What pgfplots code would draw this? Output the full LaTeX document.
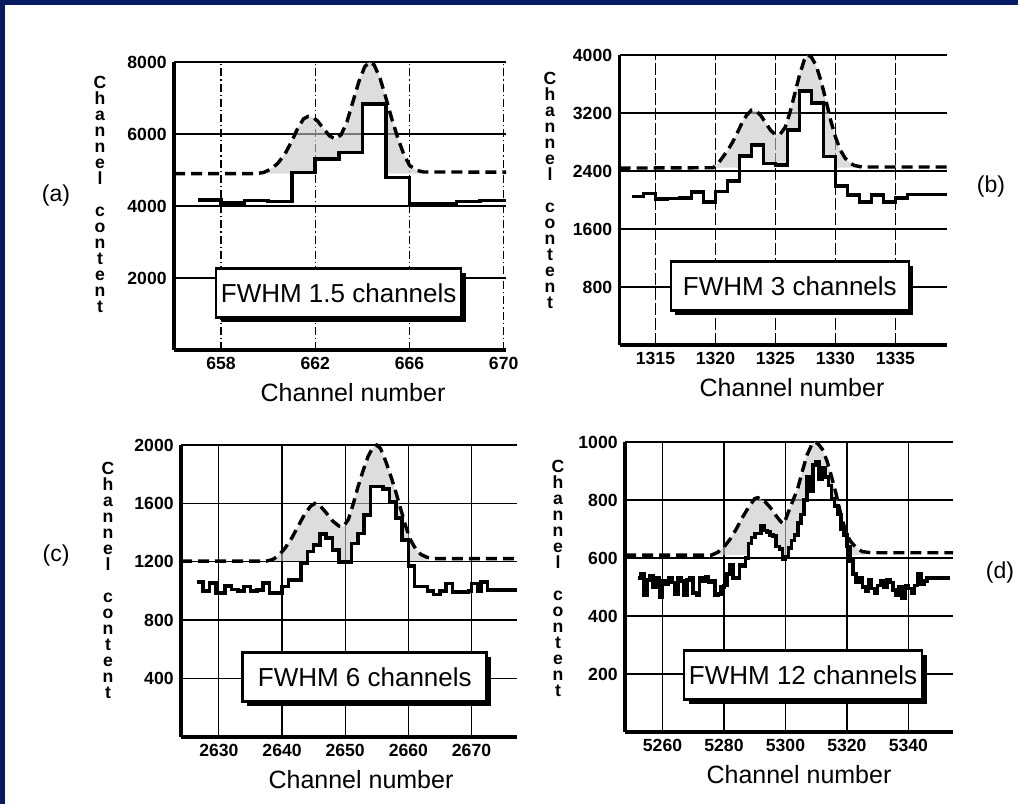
\documentclass[border=0pt]{standalone}
\usepackage{fontspec}
\setmainfont{Liberation Sans}
\usepackage{pgfplots}
\pgfplotsset{compat=1.18}
\usetikzlibrary{shadows}
\definecolor{navy}{RGB}{8,26,98}
\pgfplotsset{
  panel/.style={
    scale only axis, anchor=north west, clip=false,
    axis x line*=bottom, axis y line*=left,
    axis line style={line width=1.7bp, -},
    ymin=0,
    major tick length=0pt,
    ymajorgrids, xmajorgrids,
    y grid style={line width=0.7bp, black},
    x grid style={line width=0.6bp, black},
    tick label style={font=\fontsize{8.8bp}{10bp}\selectfont\bfseries},
    /pgf/number format/assume math mode=true,
    /pgf/number format/1000 sep={},
    yticklabel style={inner sep=0pt, xshift=-3.5bp},
    xticklabel style={inner sep=0pt, yshift=-3.5bp},
  },
  hist/.style={const plot, line width=1.8bp, black, no markers},
  model/.style={line width=1.7bp, black, dash pattern=on 5.5bp off 3bp, no markers},
  shade/.style={fill=black!22, fill opacity=0.6, draw=none, no markers},
}
\tikzset{
  fwhm/.style={draw=black, line width=1.3bp, fill=white, inner sep=0pt,
    minimum width=#1, minimum height=24.5bp,
    font=\fontsize{13bp}{15bp}\selectfont,
    drop shadow={shadow xshift=2.2bp, shadow yshift=-2.2bp, fill=black, opacity=1}},
  ylab/.style={align=center, inner sep=0pt, font=\fontsize{8.8bp}{8bp}\selectfont\bfseries},
  xlab/.style={inner sep=0pt, font=\fontsize{12.5bp}{14bp}\selectfont},
  plab/.style={inner sep=0pt, font=\fontsize{11.5bp}{13bp}\selectfont},
}
\begin{document}
\begin{tikzpicture}
\useasboundingbox (0,0) rectangle (509bp,402bp);
\fill[white] (0,0) rectangle (509bp,402bp);
\fill[navy] (0,0) rectangle (2.5bp,402bp);
\fill[navy] (0,399.5bp) rectangle (509bp,402bp);

% ---------------- (a)
\begin{axis}[panel, at={(87bp,371bp)}, width=166bp, height=144bp,
  xmin=656, xmax=670.1, ymax=8000,
  xtick={658,662,666,670}, ytick={2000,4000,6000,8000},
  x grid style={dash pattern=on 4bp off 1.5bp on 0.6bp off 1.5bp}]
\addplot[shade] coordinates {(659.8,4930) (660.1,5020) (660.4,5180) (660.7,5430) (661.0,5800) (661.25,6150) (661.5,6420) (661.7,6490) (661.9,6460) (662.1,6360) (662.35,6150) (662.6,5950) (662.85,5860) (663.1,5980) (663.35,6350) (663.6,6900) (663.85,7450) (664.1,7870) (664.3,8000) (664.5,7920) (664.75,7550) (665.0,7000) (665.25,6420) (665.5,5900) (665.75,5450) (666.0,5130) (666.3,4990) (666.6,4945)
 (666.6,4900) (665,4900) (665,6833) (664,6833) (664,5490) (663,5490) (663,5306) (662,5306) (662,4935) (661,4935) (661,4900) (659.8,4900)};
\addplot[model] coordinates {(656,4900) (659.5,4900) (659.8,4930) (660.1,5020) (660.4,5180) (660.7,5430) (661.0,5800) (661.25,6150) (661.5,6420) (661.7,6490) (661.9,6460) (662.1,6360) (662.35,6150) (662.6,5950) (662.85,5860) (663.1,5980) (663.35,6350) (663.6,6900) (663.85,7450) (664.1,7870) (664.3,8000) (664.5,7920) (664.75,7550) (665.0,7000) (665.25,6420) (665.5,5900) (665.75,5450) (666.0,5130) (666.3,4990) (666.6,4945) (670.1,4940)};
\addplot[hist] coordinates {(657,4167) (658,4090) (659,4150) (660,4120) (661,4935) (662,5306) (663,5490) (664,6833) (665,4796) (666,4056) (667,4056) (668,4120) (669,4150) (670.1,4150)};
\node[fwhm=122.5bp] at (rel axis cs:0.496,0.197) {FWHM 1.5 channels};
\end{axis}

% ---------------- (b)
\begin{axis}[panel, at={(309.75bp,374.5bp)}, width=163.75bp, height=145bp,
  xmin=1312, xmax=1339.3, ymax=4000,
  xtick={1315,1320,1325,1330,1335}, ytick={800,1600,2400,3200,4000},
  x grid style={dash pattern=on 6bp off 1.5bp}]
\addplot[shade] coordinates {(1319.8,2445) (1320.2,2500) (1320.6,2590) (1321.0,2680) (1321.4,2790) (1321.8,2920) (1322.2,3060) (1322.6,3170) (1323.0,3240) (1323.4,3230) (1323.8,3160) (1324.2,3060) (1324.6,2960) (1325.0,2900) (1325.4,2910) (1325.8,3000) (1326.2,3200) (1326.6,3460) (1327.0,3720) (1327.4,3930) (1327.7,4000) (1328.0,3970) (1328.4,3850) (1328.8,3640) (1329.2,3380) (1329.6,3100) (1330.0,2870) (1330.4,2690) (1330.8,2580) (1331.2,2510) (1331.6,2475)
 (1331.6,2445) (1330,2445) (1330,2600) (1329,2600) (1329,3341) (1328,3341) (1328,3507) (1327,3507) (1327,2965) (1326,2965) (1326,2482) (1325,2482) (1325,2505) (1324,2505) (1324,2758) (1323,2758) (1323,2606) (1322,2606) (1322,2445) (1319.8,2445)};
\addplot[model] coordinates {(1312,2440) (1319.8,2445) (1320.2,2500) (1320.6,2590) (1321.0,2680) (1321.4,2790) (1321.8,2920) (1322.2,3060) (1322.6,3170) (1323.0,3240) (1323.4,3230) (1323.8,3160) (1324.2,3060) (1324.6,2960) (1325.0,2900) (1325.4,2910) (1325.8,3000) (1326.2,3200) (1326.6,3460) (1327.0,3720) (1327.4,3930) (1327.7,4000) (1328.0,3970) (1328.4,3850) (1328.8,3640) (1329.2,3380) (1329.6,3100) (1330.0,2870) (1330.4,2690) (1330.8,2580) (1331.2,2510) (1331.6,2475) (1332.2,2455) (1339.3,2455)};
\addplot[hist] coordinates {(1313,2050) (1314,2090) (1315,2010) (1316,2020) (1317,2030) (1318,2110) (1319,1975) (1320,2115) (1321,2266) (1322,2606) (1323,2758) (1324,2505) (1325,2482) (1326,2965) (1327,3507) (1328,3341) (1329,2600) (1330,2190) (1331,2065) (1332,1970) (1333,2065) (1334,1975) (1335,2025) (1336,2078) (1339.3,2078)};
\node[fwhm=119bp] at (rel axis cs:0.52,0.204) {FWHM 3 channels};
\end{axis}

% ---------------- (c)
\begin{axis}[panel, at={(90.5bp,179.5bp)}, width=168bp, height=146bp,
  xmin=2624, xmax=2677.2, ymax=2000,
  xtick={2630,2640,2650,2660,2670}, ytick={400,800,1200,1600,2000}]
\addplot[shade] coordinates {(2638.5,1215) (2639.5,1245) (2640.5,1295) (2641.5,1360) (2642.5,1440) (2643.5,1520) (2644.5,1580) (2645.2,1600) (2646,1585) (2647,1535) (2648,1480) (2649,1445) (2649.7,1440) (2650.5,1490) (2651.3,1600) (2652,1710) (2652.8,1820) (2653.6,1920) (2654.4,1985) (2655,2000) (2655.6,1975) (2656.4,1890) (2657.2,1790) (2658,1680) (2658.8,1560) (2659.6,1440) (2660.4,1345) (2661.2,1285) (2662,1250) (2663,1230)
 (2663,1205) (2660,1205) (2660,1350) (2659,1350) (2659,1500) (2658,1500) (2658,1610) (2657,1610) (2657,1700) (2656,1700) (2656,1715) (2654,1715) (2654,1520) (2653,1520) (2653,1395) (2652,1395) (2652,1326) (2651,1326) (2651,1205) (2649,1205) (2649,1280) (2648,1280) (2648,1365) (2647,1365) (2647,1390) (2646,1390) (2646,1315) (2645,1315) (2645,1270) (2644,1270) (2644,1205) (2638.5,1205)};
\addplot[model] coordinates {(2624,1205) (2637.5,1205) (2638.5,1215) (2639.5,1245) (2640.5,1295) (2641.5,1360) (2642.5,1440) (2643.5,1520) (2644.5,1580) (2645.2,1600) (2646,1585) (2647,1535) (2648,1480) (2649,1445) (2649.7,1440) (2650.5,1490) (2651.3,1600) (2652,1710) (2652.8,1820) (2653.6,1920) (2654.4,1985) (2655,2000) (2655.6,1975) (2656.4,1890) (2657.2,1790) (2658,1680) (2658.8,1560) (2659.6,1440) (2660.4,1345) (2661.2,1285) (2662,1250) (2663,1230) (2664,1222) (2677.2,1222)};
\addplot[hist] coordinates {(2626.5,1060) (2627.5,1000) (2628.5,1055) (2629.5,985) (2631,1035) (2632,1010) (2633,1000) (2634,1030) (2635,1000) (2636,1005) (2637,1055) (2638,985) (2640,1030) (2641,1075) (2643,1190) (2644,1270) (2645,1315) (2646,1390) (2647,1365) (2648,1280) (2649,1200) (2651,1326) (2652,1395) (2653,1520) (2654,1715) (2656,1700) (2657,1610) (2658,1500) (2659,1350) (2660,1170) (2661,1030) (2663,1000) (2664,975) (2665,1000) (2666,1050) (2667,995) (2669.5,1000) (2670,1050) (2671,1000) (2671.5,1060) (2672.5,1005) (2677.2,1005)};
\node[fwhm=122bp] at (rel axis cs:0.547,0.206) {FWHM 6 channels};
\end{axis}

% ---------------- (d)
\begin{axis}[panel, at={(312.5bp,181bp)}, width=164bp, height=145bp,
  xmin=5247.8, xmax=5354.5, ymax=1000,
  xtick={5260,5280,5300,5320,5340}, ytick={200,400,600,800,1000}]
\addplot[shade] coordinates {(5277,615) (5278,620) (5280,638) (5282,665) (5284,700) (5286,740) (5288,775) (5290,805) (5291,808) (5293,798) (5295,775) (5297,745) (5298.5,725) (5299.5,718) (5301,760) (5302.5,800) (5304,840) (5305.5,900) (5307,955) (5308.5,990) (5309.5,1000) (5310.5,995) (5312,975) (5313.5,935) (5315,880) (5316.5,820) (5318,750) (5319.5,695) (5321,660) (5323,635) (5325,622) (5326,620)
 (5326,610) (5321,610) (5321,640) (5320,640) (5320,680) (5319,680) (5319,700) (5318,700) (5318,750) (5317,750) (5317,780) (5316,780) (5316,805) (5315,805) (5315,850) (5314,850) (5314,880) (5313,880) (5313,910) (5312,910) (5312,870) (5311,870) (5311,930) (5310,930) (5310,920) (5309,920) (5309,830) (5308,830) (5308,880) (5307,880) (5307,800) (5306,800) (5306,750) (5305,750) (5305,720) (5304,720) (5304,680) (5303,680) (5303,660) (5302,660) (5302,635) (5301,635) (5301,610) (5299,610) (5299,630) (5298,630) (5298,640) (5297,640) (5297,675) (5296,675) (5296,680) (5295,680) (5295,690) (5294,690) (5294,695) (5293,695) (5293,710) (5292,710) (5292,685) (5290,685) (5290,670) (5289,670) (5289,650) (5288,650) (5288,610) (5277,610)};
\addplot[model] coordinates {(5247.8,610) (5276,610) (5278,620) (5280,638) (5282,665) (5284,700) (5286,740) (5288,775) (5290,805) (5291,808) (5293,798) (5295,775) (5297,745) (5298.5,725) (5299.5,718) (5301,760) (5302.5,800) (5304,840) (5305.5,900) (5307,955) (5308.5,990) (5309.5,1000) (5310.5,995) (5312,975) (5313.5,935) (5315,880) (5316.5,820) (5318,750) (5319.5,695) (5321,660) (5323,635) (5325,622) (5328,618) (5354.5,618)};
\addplot[hist] coordinates {(5252,530) (5253,545) (5254,470) (5255,525) (5256,540) (5257,500) (5258,530) (5259,465) (5260,520) (5261,510) (5262,530) (5263,515) (5264,475) (5265,530) (5266,520) (5267,470) (5268,525) (5269,530) (5270,480) (5271,470) (5272,530) (5273,520) (5274,535) (5275,515) (5276,520) (5277,470) (5278,475) (5279,500) (5280,505) (5281,545) (5282,575) (5283,530) (5284,530) (5285,575) (5286,570) (5287,600) (5288,650) (5289,670) (5290,685) (5291,685) (5292,710) (5293,695) (5294,690) (5295,680) (5296,675) (5297,640) (5298,630) (5299,595) (5300,605) (5301,635) (5302,660) (5303,680) (5304,720) (5305,750) (5306,800) (5307,880) (5308,830) (5309,920) (5310,930) (5311,870) (5312,910) (5313,880) (5314,850) (5315,805) (5316,780) (5317,750) (5318,700) (5319,680) (5320,640) (5321,590) (5322,545) (5323,515) (5324,530) (5325,500) (5326,485) (5327,525) (5328,495) (5329,480) (5330,505) (5331,520) (5332,500) (5333,525) (5334,515) (5335,490) (5336,470) (5337,500) (5338,460) (5339,505) (5340,495) (5341,480) (5342,505) (5343,545) (5344,510) (5345,520) (5346,530) (5347,530) (5353.5,530)};
\node[fwhm=119bp] at (rel axis cs:0.543,0.197) {FWHM 12 channels};
\end{axis}

% ---------------- labels
\node[ylab] at (50bp,305bp) {C\\h\\a\\n\\n\\e\\l\\[8bp]c\\o\\n\\t\\e\\n\\t};
\node[ylab] at (275bp,307bp) {C\\h\\a\\n\\n\\e\\l\\[8bp]c\\o\\n\\t\\e\\n\\t};
\node[ylab] at (54bp,112bp) {C\\h\\a\\n\\n\\e\\l\\[8bp]c\\o\\n\\t\\e\\n\\t};
\node[ylab] at (279bp,113bp) {C\\h\\a\\n\\n\\e\\l\\[8bp]c\\o\\n\\t\\e\\n\\t};
\node[xlab] at (176.5bp,205.5bp) {Channel number};
\node[xlab] at (396bp,208bp) {Channel number};
\node[xlab] at (180.5bp,12bp) {Channel number};
\node[xlab] at (399.5bp,14.5bp) {Channel number};
\node[plab] at (28bp,304bp) {(a)};
\node[plab] at (495.5bp,308.5bp) {(b)};
\node[plab] at (28bp,124bp) {(c)};
\node[plab] at (500bp,115.5bp) {(d)};
\end{tikzpicture}
\end{document}
